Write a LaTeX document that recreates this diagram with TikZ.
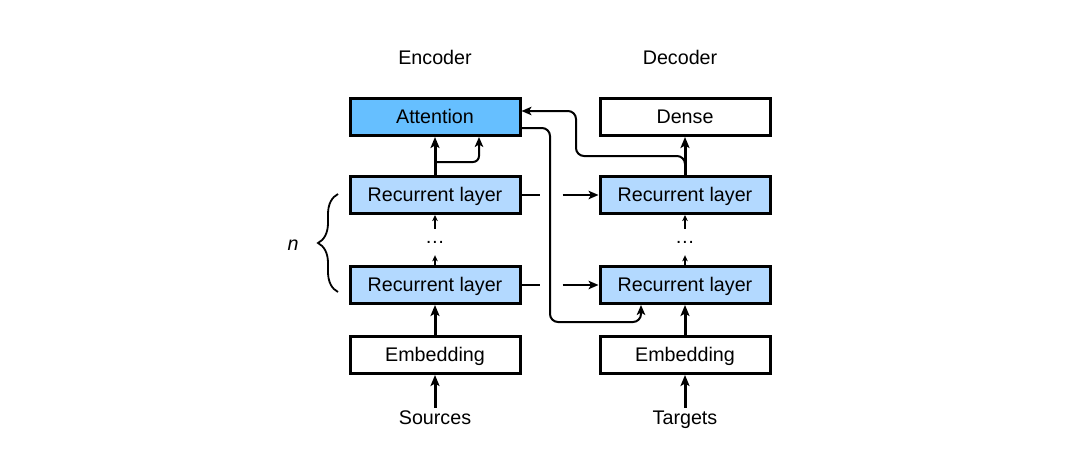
\documentclass[tikz,border=0pt]{standalone}
\usepackage{fontspec}
\setmainfont{Liberation Sans}
\usetikzlibrary{arrows.meta,calc,decorations.pathreplacing}
\definecolor{attn}{RGB}{102,191,255}
\definecolor{recc}{RGB}{179,217,255}
\begin{document}
\begin{tikzpicture}[x=1pt,y=-1pt,
  font=\fontsize{19.7}{23}\selectfont,
  box/.style={draw=black, line width=3pt, minimum width=170pt, minimum height=37pt, inner sep=0pt, text height=15pt, text depth=3pt},
  lbl/.style={inner sep=2pt, text height=14pt, text depth=4pt},
  thickarr/.style={line width=3pt, -{Stealth[length=11pt,width=9pt,inset=2.5pt]}},
  thinarr/.style={line width=2pt, rounded corners=8pt, -{Stealth[length=10pt,width=8.5pt,inset=2.5pt]}},
  smallarr/.style={line width=2.2pt, -{Stealth[length=6pt,width=5.5pt,inset=1.5pt]}},
  horarr/.style={line width=2.4pt, -{Stealth[length=10pt,width=8.5pt,inset=2.5pt]}},
  dotsnode/.style={minimum height=26pt, inner sep=0pt}]
\useasboundingbox (0,0) rectangle (1086,455);
\fill[white] (0,0) rectangle (1086,455);

% labels
\node[lbl] (enc) at (435,59) {Encoder};
\node[lbl] (dec) at (680,59) {Decoder};

% encoder
\node[box, fill=attn] (att) at (435,117) {Attention};
\node[box, fill=recc] (er1) at (435,195) {Recurrent layer};
\node[dotsnode] (edots) at (435,242) {…};
\node[box, fill=recc] (er2) at (435,285) {Recurrent layer};
\node[box, fill=white] (eemb) at (435,355) {Embedding};
\node[lbl] (src) at (435,419) {Sources};

% decoder
\node[box, fill=white] (dense) at (685,117) {Dense};
\node[box, fill=recc] (dr1) at (685,195) {Recurrent layer};
\node[dotsnode] (ddots) at (685,242) {…};
\node[box, fill=recc] (dr2) at (685,285) {Recurrent layer};
\node[box, fill=white] (demb) at (685,355) {Embedding};
\node[lbl] (tgt) at (685,419) {Targets};

% n brace
\node[lbl] (nlab) at (293,245) {\textit{n}};
\draw[line width=1.8pt, decorate, decoration={brace, amplitude=20pt}] (338,292) -- (338,194);

% encoder vertical arrows
\draw[thickarr] (src.north) -- (eemb.south);
\draw[thickarr] (eemb.north) -- (er2.south);
\draw[smallarr] (er2.north) -- (edots.south);
\draw[smallarr] (edots.north) -- (er1.south);
\draw[thickarr] (er1.north) -- (att.south);
\draw[thinarr, rounded corners=6pt] ($(er1.north)+(0,-13)$) -| ([xshift=44pt]att.south);

% decoder vertical arrows
\draw[thickarr] (tgt.north) -- (demb.south);
\draw[thickarr] (demb.north) -- (dr2.south);
\draw[smallarr] (dr2.north) -- (ddots.south);
\draw[smallarr] (ddots.north) -- (dr1.south);
\draw[thickarr] (dr1.north) -- (dense.south);

% decoder state to attention
\draw[thinarr] (dr1.north) |- (576,156) |- ([yshift=6pt]att.east);
% attention context to decoder
\draw[thinarr] ([yshift=-11pt]att.east) -| (550,322) -| ([xshift=-44pt]dr2.south);

% encoder state to decoder
\draw[horarr] (er1.east) -- ++(18,0) ++(23,0) -- (dr1.west);
\draw[horarr] (er2.east) -- ++(18,0) ++(23,0) -- (dr2.west);
\end{tikzpicture}
\end{document}
